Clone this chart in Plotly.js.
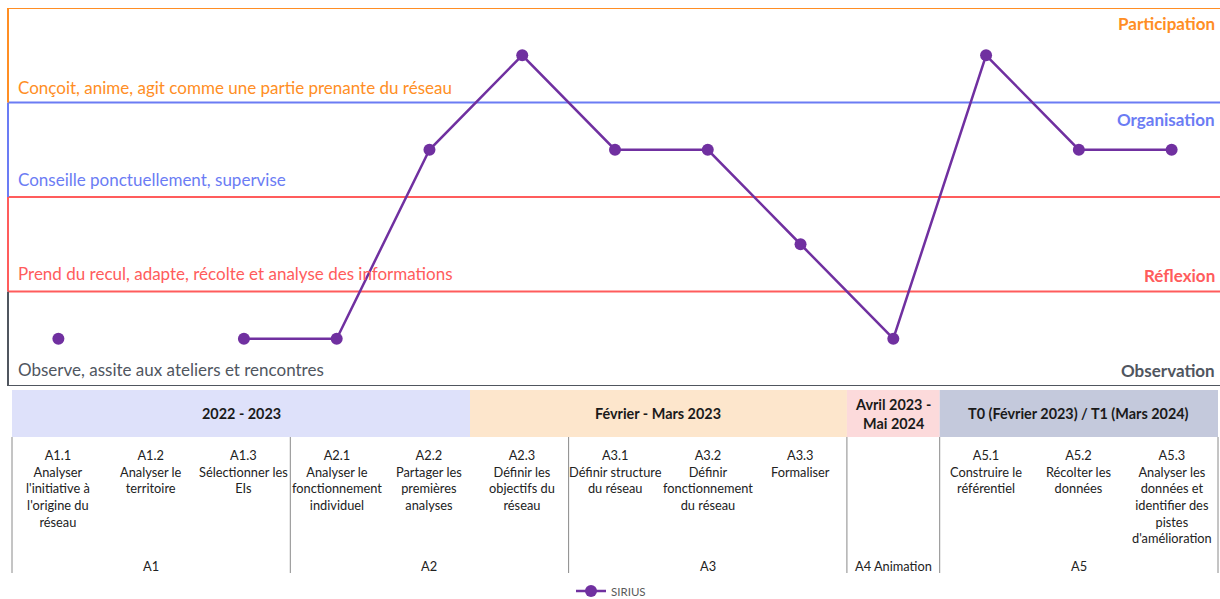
<!DOCTYPE html>
<html><head><meta charset="utf-8">
<script src="https://cdn.plot.ly/plotly-3.0.1.min.js"></script>
<style>html,body{margin:0;padding:0;background:#fff}#chart{width:1220px;height:599px}</style>
</head><body><div id="chart"></div>
<script>
// ---------- data ----------
const categories = ['A1.1','A1.2','A1.3','A2.1','A2.2','A2.3','A3.1','A3.2','A3.3','A4','A5.1','A5.2','A5.3'];
const activityTexts = [
  "A1.1<br>Analyser<br>l'initiative à<br>l'origine du<br>réseau",
  "A1.2<br>Analyser le<br>territoire",
  "A1.3<br>Sélectionner les<br>EIs",
  "A2.1<br>Analyser le<br>fonctionnement<br>individuel",
  "A2.2<br>Partager les<br>premières<br>analyses",
  "A2.3<br>Définir les<br>objectifs du<br>réseau",
  "A3.1<br>Définir structure<br>du réseau",
  "A3.2<br>Définir<br>fonctionnement<br>du réseau",
  "A3.3<br>Formaliser",
  "",
  "A5.1<br>Construire le<br>référentiel",
  "A5.2<br>Récolter les<br>données",
  "A5.3<br>Analyser les<br>données et<br>identifier des<br>pistes<br>d'amélioration"
];
const siriusLevels = [1, null, 1, 1, 3, 4, 3, 3, 2, 1, 4, 3, 3];
const levelNames = ['Observation','Réflexion','Organisation','Participation'];
const levelDescriptions = [
  'Observe, assite aux ateliers et rencontres',
  'Prend du recul, adapte, récolte et analyse des informations',
  'Conseille ponctuellement, supervise',
  'Conçoit, anime, agit comme une partie prenante du réseau'
];
const groupLabels = ['A1','A2','A3','A4 Animation','A5'];
const groupFirst = [0,3,6,9,10];
const groupLast  = [2,5,8,9,12];
const periodLabels = ['2022 - 2023','Février - Mars 2023','Avril 2023 -<br>Mai 2024','T0 (Février 2023) / T1 (Mars 2024)'];

// ---------- layout constants ----------
const W = 1220, H = 599;
const FONT = 'Lato, "Open Sans", sans-serif';
const levelColors = ['#50565f','#ff5c5c','#6b7cf4','#ff8e24'];
const periodColors = ['#dee1fa','#fde6cc','#fcdadb','#c4c9dc'];
const periodBounds = [-0.5, 4.437, 8.5, 9.5, 12.5];
const colW = 1206/13, tableLeft = 12;
const xRange = [-0.5 - tableLeft/colW, (W - tableLeft)/colW - 0.5];
const plotTop = 8, plotBottom = 386;
const headerTop = 390, headerBottom = 437, bodyBottom = 573;

const shapes = [];
const annotations = [];
const px = p => p / W;

// horizontal band lines: top of each band in its colour, 1.5 line red, bottom grey
const hLines = [[4.5,3],[3.5,2],[2.5,1],[1.5,1],[0.5,0]];
hLines.forEach(([y,k]) => {
  shapes.push({type:'line', xref:'paper', yref:'y', x0:px(8), x1:1.02, y0:y, y1:y,
    line:{color:levelColors[k], width:k===0?2.2:2}, layer:'below'});
});
// left edges of each band
[0,1,2,3].forEach(k => {
  shapes.push({type:'line', xref:'paper', yref:'y', x0:px(8), x1:px(8), y0:k+0.5, y1:k+1.5,
    line:{color:levelColors[k], width:2}, layer:'below'});
});

// band texts
const descShift = [4,5,5,2];
levelDescriptions.forEach((t,k) => {
  annotations.push({xref:'paper', yref:'y', x:px(16), y:k+0.5, xanchor:'left', yanchor:'bottom',
    yshift:descShift[k], text:t, showarrow:false, font:{family:FONT, size:17, color:levelColors[k]}});
});
const nameAnchors = [['bottom',0.5,3],['bottom',1.5,3],['top',3.5,-5],['top',4.5,-3]];
levelNames.forEach((t,k) => {
  annotations.push({xref:'paper', yref:'y', x:px(1217), y:nameAnchors[k][1], xanchor:'right',
    yanchor:nameAnchors[k][0], yshift:nameAnchors[k][2], text:'<b>'+t+'</b>', showarrow:false,
    font:{family:FONT, size:17, color:levelColors[k]}});
});

// table header
periodLabels.forEach((t,i) => {
  shapes.push({type:'rect', xref:'x', yref:'y2', x0:periodBounds[i], x1:periodBounds[i+1],
    y0:headerTop, y1:headerBottom, fillcolor:periodColors[i], line:{width:0}});
  annotations.push({xref:'x', yref:'y2', x:(periodBounds[i]+periodBounds[i+1])/2,
    y:(headerTop+headerBottom)/2, text:'<b>'+t+'</b>', showarrow:false, align:'center',
    font:{family:FONT, size:14.4, color:'#1a1a1a'}});
});
// table body vertical lines
const vlines = [groupFirst[0]-0.5].concat(groupLast.map(v => v+0.5));
vlines.forEach(v => {
  shapes.push({type:'line', xref:'x', yref:'y2', x0:v, x1:v, y0:headerBottom, y1:bodyBottom,
    line:{color:'#8a8a8a', width:1}});
});
// activity texts
categories.forEach((c,i) => {
  if (!activityTexts[i]) return;
  annotations.push({xref:'x', yref:'y2', x:i, y:445, yanchor:'top', text:activityTexts[i],
    showarrow:false, align:'center', font:{family:FONT, size:12.8, color:'#222'}});
});
// group labels
groupLabels.forEach((g,i) => {
  annotations.push({xref:'x', yref:'y2', x:(groupFirst[i]+groupLast[i])/2, y:566, text:g,
    showarrow:false, font:{family:FONT, size:12.8, color:'#222'}});
});

const traces = [
  {x:categories, y:siriusLevels, name:'SIRIUS', type:'scatter', mode:'lines+markers',
   line:{color:'#7030a0', width:2.5}, marker:{color:'#7030a0', size:12}, cliponaxis:false,
   hoverinfo:'skip'},
  {x:[categories[0]], y:[-100], xaxis:'x', yaxis:'y2', type:'scatter', mode:'markers',
   marker:{opacity:0}, showlegend:false, hoverinfo:'skip'}
];

const layout = {
  width:W, height:H, margin:{l:0,r:0,t:0,b:0,pad:0,autoexpand:false},
  paper_bgcolor:'#ffffff', plot_bgcolor:'rgba(0,0,0,0)',
  font:{family:FONT},
  xaxis:{type:'category', categoryarray:categories, range:xRange, domain:[0,1], visible:false, fixedrange:true},
  yaxis:{range:[0.5,4.5], domain:[(H-plotBottom)/H, (H-plotTop)/H], visible:false, fixedrange:true},
  yaxis2:{range:[H,0], domain:[0,1], anchor:'x', visible:false, fixedrange:true},
  showlegend:true,
  legend:{orientation:'h', x:px(571), xanchor:'left', y:1-591/H, yanchor:'middle',
    font:{family:FONT, size:11.5, color:'#595959'}, bgcolor:'rgba(0,0,0,0)'},
  hovermode:false,
  shapes:shapes, annotations:annotations
};

Plotly.newPlot('chart', traces, layout, {staticPlot:true, displayModeBar:false});
</script>
</body></html>
